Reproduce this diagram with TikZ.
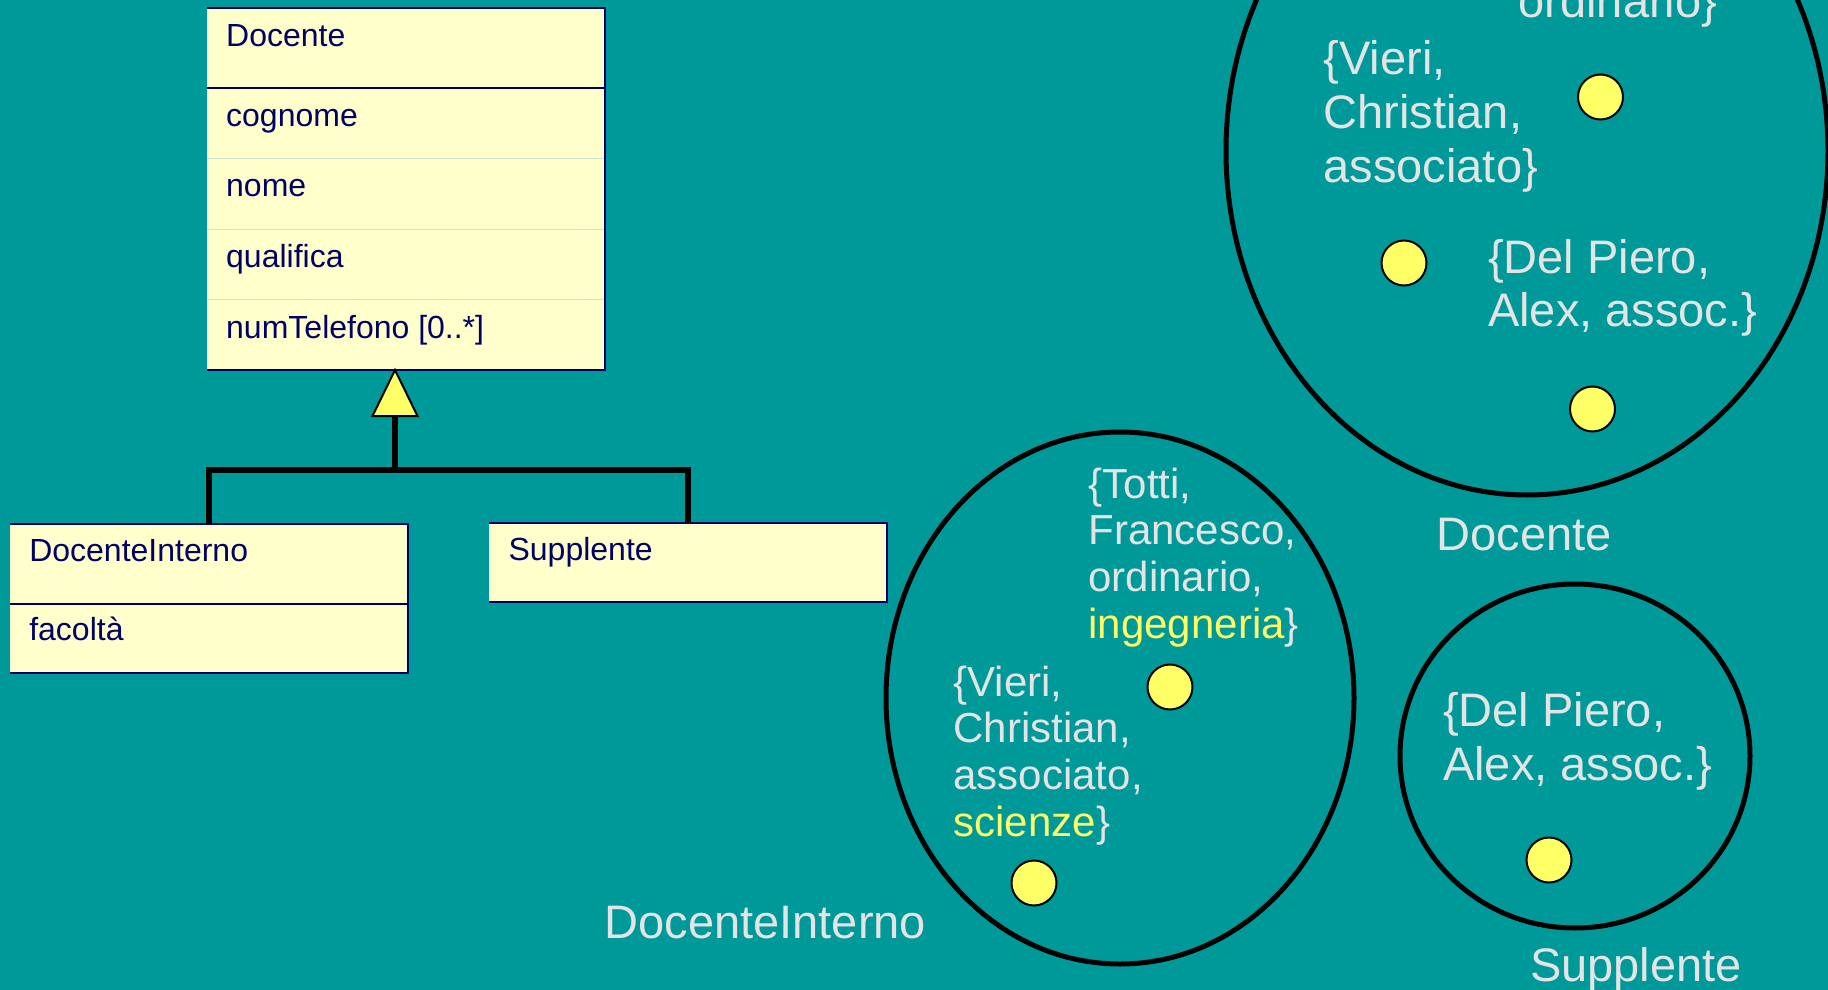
\documentclass[tikz,border=0pt]{standalone}
\usepackage{fontspec}
\setmainfont{Liberation Sans}
\usetikzlibrary{shapes.geometric}

\definecolor{slidebg}{RGB}{0,153,153}
\definecolor{umlfill}{RGB}{255,255,204}
\definecolor{umlnavy}{RGB}{0,0,102}
\definecolor{rowline}{RGB}{204,232,204}
\definecolor{objyellow}{RGB}{255,255,102}
\definecolor{setgray}{RGB}{228,228,228}

\begin{document}
\begin{tikzpicture}[
                x = 0.5pt, % one unit = one pixel of the slide
                y = -0.5pt,
                semithick % line style
            ]

            \tikzstyle{classbox}=[
            fill = umlfill,
            inner sep = 0pt,
            outer sep = 0pt,
            anchor = north west
            ]
            \tikzstyle{classedge}=[draw = umlnavy, line width = 1pt]
            \tikzstyle{rowedge}=[draw = rowline, line width = 0.6pt]
            \tikzstyle{attr}=[text = umlnavy, font = \fontsize{16pt}{19pt}\selectfont, inner sep = 0pt, anchor = base west]
            \tikzstyle{genline}=[draw = black, line width = 2.8pt]
            \tikzstyle{extset}=[draw = black, ellipse, line width = 2.5pt, inner sep = 0pt]
            \tikzstyle{obj}=[draw = black, fill = objyellow, circle, line width = 1pt, minimum size = 22.5pt, inner sep = 0pt]
            % base of a tuple = baseline of its last line
            \tikzstyle{tuple}=[text = setgray, font = \fontsize{23.5pt}{27pt}\selectfont, align = left, inner sep = 0pt, anchor = base west]
            \tikzstyle{smalltuple}=[tuple, font = \fontsize{21pt}{23.3pt}\selectfont]
            \tikzstyle{setname}=[text = setgray, font = \fontsize{23.5pt}{27pt}\selectfont, inner sep = 0pt, anchor = base west]

            \useasboundingbox (0,0) rectangle (1828,990);
            \fill[slidebg] (0,0) rectangle (1828,990);

            % class diagram
            \node[classbox, minimum width = 198.9pt, minimum height = 180.85pt] (docente) at (206.7,8) {};
            \draw[rowedge] (206.7,158.5) -- (604.5,158.5);
            \draw[rowedge] (206.7,229.3) -- (604.5,229.3);
            \draw[rowedge] (206.7,299.7) -- (604.5,299.7);
            \draw[classedge] (docente.north west) -- (docente.north east) -- (docente.south east) -- (docente.south west);
            \draw[classedge] (206.7,88.5) -- (604.5,88.5);

            \node[attr] (dname) at (225.6,46.5) {Docente};
            \node[attr] (dcognome) at (225.6,127) {cognome};
            \node[attr] (dnome) at (225.6,197) {nome};
            \node[attr] (dqualifica) at (225.6,267) {qualifica};
            \node[attr] (dtelefono) at (225.6,338) {numTelefono [0..*]};

            \node[classbox, minimum width = 198.8pt, minimum height = 74.8pt] (docint) at (10,523.8) {};
            \draw[classedge] (docint.north west) -- (docint.north east) -- (docint.south east) -- (docint.south west);
            \draw[classedge] (10,604) -- (407.6,604);
            \node[attr] (iname) at (28.7,561) {DocenteInterno};
            \node[attr] (ifacolta) at (28.7,640) {facoltà};

            \node[classbox, minimum width = 199pt, minimum height = 39.75pt] (supplente) at (489,522.5) {};
            \draw[classedge] (supplente.north west) -- (supplente.north east) -- (supplente.south east) -- (supplente.south west);
            \node[attr] (sname) at (508,560) {Supplente};

            % generalization
            \coordinate (apex) at (395,370);
            \coordinate (tbase) at (395,416);
            \coordinate (fork) at (395,470);
            \draw[genline] (tbase) -- (fork) -| (docint.north);
            \draw[genline] (fork) -| (supplente.north);
            \draw[black, line width = 1pt, fill = objyellow] (apex) -- (372.5,416) -- (417.5,416) -- cycle;

            % extensions
            \node[extset, minimum width = 301pt, minimum height = 344pt] (docset) at (1527,151) {};
            \node[extset, minimum width = 234pt, minimum height = 266pt] (intset) at (1120,698) {};
            \node[extset, minimum width = 175pt, minimum height = 172pt] (supset) at (1575,756) {};

            \node[obj] (dvieri) at (1600.5,97) {};
            \node[obj] (ddelpiero) at (1404,263) {};
            \node[obj] (dtotti) at (1592.5,409) {};
            \node[obj] (itotti) at (1170,687) {};
            \node[obj] (ivieri) at (1034,883) {};
            \node[obj] (sdelpiero) at (1549,860) {};

            \node[tuple] (tordinario) at (1518,18) {ordinario\}};
            \node[tuple] (tvieri) at (1323,183) {\{Vieri,\\Christian,\\associato\}};
            \node[tuple] (tdelpiero) at (1487.5,327) {\{Del Piero,\\Alex, assoc.\}};
            \node[setname] (ldocente) at (1436,550) {Docente};

            \node[smalltuple] (ttottiint) at (1088,638) {\{Totti,\\Francesco,\\ordinario,\\\textcolor{objyellow}{ingegneria}\}};
            \node[smalltuple] (tvieriint) at (953,836) {\{Vieri,\\Christian,\\associato,\\\textcolor{objyellow}{scienze}\}};
            \node[setname] (lintern) at (604,938.5) {DocenteInterno};

            \node[tuple] (tdelpierosupp) at (1442.6,780) {\{Del Piero,\\Alex, assoc.\}};
            \node[setname] (lsupp) at (1529.6,981) {Supplente};
        \end{tikzpicture}
\end{document}
